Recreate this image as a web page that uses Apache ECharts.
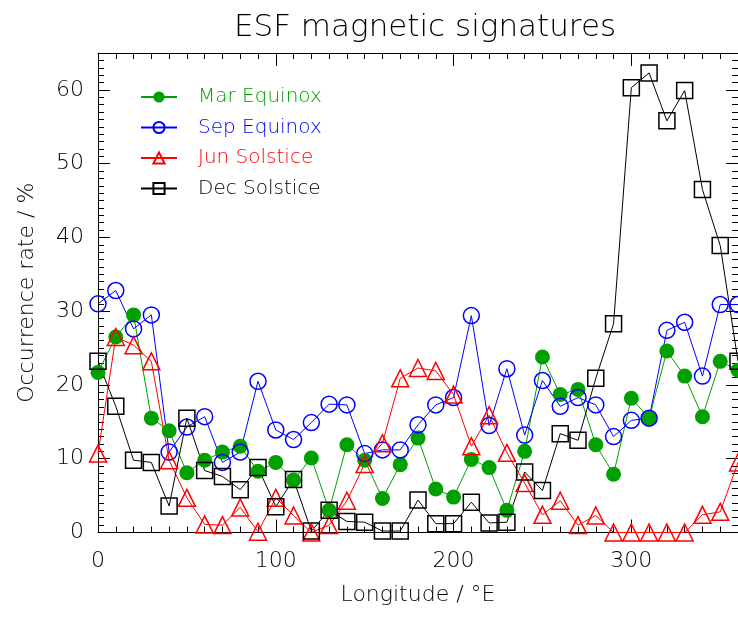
<!DOCTYPE html>
<html>
<head>
<meta charset="utf-8">
<script src="https://cdn.jsdelivr.net/npm/echarts@6/dist/echarts.min.js"></script>
<style>
  html, body { margin: 0; padding: 0; background: #fff; }
  #chart { width: 738px; height: 617px; }
</style>
</head>
<body>
<div id="chart"></div>
<script>
// longitudes, every 10 degrees
var lons = [0, 10, 20, 30, 40, 50, 60, 70, 80, 90, 100, 110, 120, 130, 140, 150, 160, 170, 180,
            190, 200, 210, 220, 230, 240, 250, 260, 270, 280, 290, 300, 310, 320, 330, 340, 350, 360];

// occurrence rate (%)
var marEquinox = [21.7, 26.5, 29.5, 15.5, 13.8, 8.1, 9.8, 10.9, 11.7, 8.3, 9.5, 7.1, 10.1, 3.0, 11.9, 9.8, 4.6, 9.2, 12.8,
                  5.9, 4.8, 9.9, 8.8, 3.0, 11.0, 23.8, 18.7, 19.4, 11.9, 7.9, 18.2, 15.5, 24.6, 21.2, 15.7, 23.2, 22.0];
var sepEquinox = [31.0, 32.8, 27.6, 29.5, 10.9, 14.3, 15.7, 9.5, 10.9, 20.5, 13.9, 12.6, 14.9, 17.4, 17.3, 10.7, 11.2, 11.2, 14.6,
                  17.3, 18.3, 29.4, 14.5, 22.2, 13.2, 20.6, 17.1, 18.3, 17.3, 13.0, 15.2, 15.5, 27.4, 28.5, 21.2, 30.9, 30.9];
var junSolstice = [10.7, 26.5, 25.4, 23.2, 9.8, 4.7, 1.1, 1.0, 3.4, 0.1, 4.7, 2.3, 0.0, 1.0, 4.3, 9.3, 12.1, 20.9, 22.3,
                   21.9, 18.7, 11.7, 15.9, 10.8, 6.7, 2.4, 4.3, 1.0, 2.3, 0.0, 0.0, 0.0, 0.0, 0.0, 2.4, 2.8, 9.5];
var decSolstice = [23.2, 17.1, 9.8, 9.5, 3.6, 15.5, 8.4, 7.6, 5.8, 8.8, 3.5, 7.2, 0.2, 3.0, 1.5, 1.4, 0.2, 0.2, 4.4,
                   1.2, 1.2, 4.1, 1.3, 1.4, 8.2, 5.7, 13.4, 12.5, 20.9, 28.3, 60.3, 62.3, 55.8, 59.9, 46.5, 38.9, 23.2];

var seriesNames = ['Mar Equinox', 'Sep Equinox', 'Jun Solstice', 'Dec Solstice'];
var seriesColors = ['#00a000', '#0000ff', '#ff0000', '#000000'];

var FONT = 'DejaVu Sans';

function pairs(vals) {
    var out = [];
    for (var i = 0; i < lons.length; i++) out.push([lons[i], vals[i]]);
    return out;
}

function makeSeries(name, vals, color, symbol, filled, size) {
    return {
        name: name,
        type: 'line',
        data: pairs(vals),
        symbol: symbol,
        symbolSize: size,
        showAllSymbol: true,
        clip: false,
        lineStyle: { color: color, width: 1 },
        itemStyle: { color: filled ? color : 'rgba(255,255,255,0)', borderColor: color, borderWidth: filled ? 0 : 1.5 },
        emphasis: { disabled: true },
        z: 3
    };
}

// axis helpers: one axis for major ticks + labels, one for minor ticks
function xAx(pos, major, labels) {
    return {
        type: 'value', position: pos, min: 0, max: 360,
        interval: major ? 100 : 10,
        axisLine: { show: major, onZero: false, lineStyle: { color: '#000', width: 1 } },
        axisTick: { show: true, inside: true, length: major ? 13 : 6, lineStyle: { color: '#000', width: 1 } },
        axisLabel: { show: labels, margin: 18, color: '#000', fontFamily: FONT, fontWeight: 200, fontSize: 22, showMaxLabel: false },
        splitLine: { show: false }
    };
}
function yAx(pos, major, labels) {
    return {
        type: 'value', position: pos, min: 0, max: 65,
        interval: major ? 10 : 1,
        axisLine: { show: major, onZero: false, lineStyle: { color: '#000', width: 1 } },
        axisTick: { show: true, inside: true, length: major ? 12 : 6, lineStyle: { color: '#000', width: 1 } },
        axisLabel: { show: labels, margin: 14, color: '#000', fontFamily: FONT, fontWeight: 200, fontSize: 22, showMaxLabel: false },
        splitLine: { show: false }
    };
}

var chart = echarts.init(document.getElementById('chart'), null, { renderer: 'canvas' });

var xMain = xAx('bottom', true, true);
xMain.name = 'Longitude / °E';
xMain.nameLocation = 'middle';
xMain.nameGap = 52;
xMain.nameTextStyle = { color: '#000', fontFamily: FONT, fontWeight: 200, fontSize: 22 };

var yMain = yAx('left', true, true);
yMain.name = 'Occurrence rate / %';
yMain.nameLocation = 'middle';
yMain.nameGap = 60;
yMain.nameTextStyle = { color: '#000', fontFamily: FONT, fontWeight: 200, fontSize: 22 };

var option = {
    backgroundColor: '#fff',
    animation: false,
    title: {
        text: 'ESF magnetic signatures',
        left: 420, top: 7, textAlign: 'center',
        textStyle: { color: '#000', fontFamily: FONT, fontWeight: 200, fontSize: 31 }
    },
    grid: { left: 98, top: 53, width: 643, height: 479.5 },
    legend: {
        orient: 'vertical',
        left: 135, top: 82,
        itemWidth: 36, itemHeight: 14, itemGap: 10.5,
        data: seriesNames.map(function (n, i) {
            return { name: n, textStyle: { color: seriesColors[i] } };
        }),
        textStyle: { fontFamily: FONT, fontWeight: 200, fontSize: 20, lineHeight: 20, padding: [0, 0, 0, 16] }
    },
    xAxis: [xMain, xAx('bottom', false, false), xAx('top', true, false), xAx('top', false, false)],
    yAxis: [yMain, yAx('left', false, false), yAx('right', true, false), yAx('right', false, false)],
    series: [
        makeSeries(seriesNames[0], marEquinox, seriesColors[0], 'circle', true, 15),
        makeSeries(seriesNames[1], sepEquinox, seriesColors[1], 'circle', false, 16),
        makeSeries(seriesNames[2], junSolstice, seriesColors[2], 'triangle', false, 17),
        makeSeries(seriesNames[3], decSolstice, seriesColors[3], 'rect', false, 16)
    ]
};

chart.setOption(option);
</script>
</body>
</html>
